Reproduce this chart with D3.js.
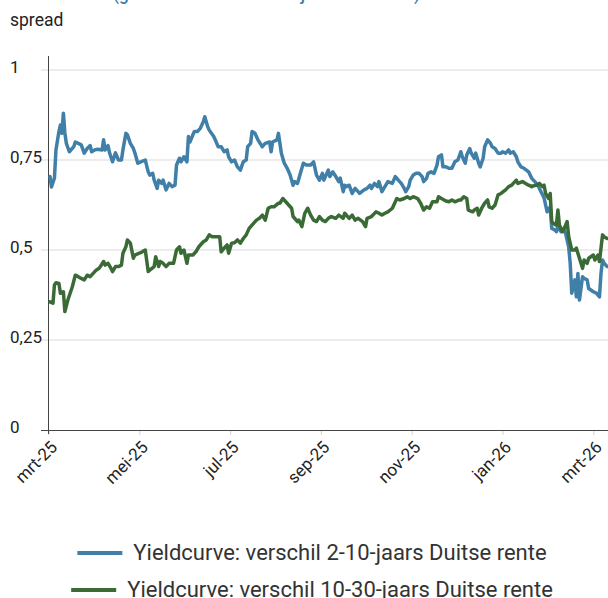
<!DOCTYPE html>
<html>
<head>
<meta charset="utf-8">
<script src="https://cdn.jsdelivr.net/npm/d3@7"></script>
<style>
  html, body { margin: 0; padding: 0; background: #fff; }
  svg { display: block; font-family: Roboto, "Noto Sans", sans-serif; }
</style>
</head>
<body>
<svg id="chart" width="608" height="598"></svg>
<script>
// ---------- data ----------
const startDate = "2025-03-01";
const tickDates = ["2025-03-01", "2025-05-01", "2025-07-01", "2025-09-01", "2025-11-01", "2026-01-01", "2026-03-01"];
const tickLabels = ["mrt-25", "mei-25", "jul-25", "sep-25", "nov-25", "jan-26", "mrt-26"];
const yTicks = [0, 0.25, 0.5, 0.75, 1];
const yTickLabels = ["0", "0,25", "0,5", "0,75", "1"];
const seriesNames = ["Yieldcurve: verschil 2-10-jaars Duitse rente", "Yieldcurve: verschil 10-30-jaars Duitse rente"];
const seriesColors = ["#3f7fa8", "#3a6b36"];

// days since 1 March 2025
const days2y10y = [1,2,4,5,7,8,9,10,11,12,14,17,18,20,22,24,26,28,29,31,33,36,37,38,40,41,43,45,47,49,50,52,53,55,57,58,60,62,65,67,68,70,71,73,74,76,77,79,81,83,85,86,88,89,91,93,94,95,97,98,100,102,104,105,107,108,111,112,114,116,118,120,121,123,125,127,129,131,133,134,136,137,139,141,144,146,149,150,151,154,155,157,159,161,163,165,166,168,170,172,174,177,179,181,183,185,186,189,190,192,194,196,197,199,200,201,203,205,207,209,210,213,215,217,218,220,222,223,225,227,229,232,234,236,238,240,241,243,244,246,248,250,252,253,255,256,258,260,262,263,265,266,268,270,272,274,276,278,279,281,282,284,285,287,288,290,291,293,294,296,298,299,301,303,305,306,308,310,311,313,315,316,318,320,323,325,327,329,331,333,335,337,338,340,341,342,344,346,347,349,350,351,353,354,355,356,358,359,361,362,365,367,369,370,371,372,374];
const spread2y10y = [0.704,0.675,0.70,0.778,0.829,0.847,0.824,0.88,0.825,0.796,0.773,0.787,0.80,0.796,0.792,0.769,0.782,0.79,0.773,0.778,0.78,0.778,0.806,0.778,0.79,0.77,0.745,0.77,0.75,0.75,0.778,0.824,0.82,0.796,0.782,0.77,0.741,0.745,0.75,0.717,0.708,0.713,0.694,0.671,0.694,0.685,0.694,0.667,0.685,0.676,0.68,0.736,0.755,0.745,0.759,0.745,0.815,0.80,0.82,0.829,0.829,0.838,0.856,0.87,0.842,0.833,0.815,0.806,0.787,0.787,0.773,0.778,0.759,0.745,0.75,0.731,0.722,0.745,0.75,0.787,0.796,0.829,0.824,0.806,0.787,0.796,0.80,0.773,0.80,0.806,0.824,0.769,0.741,0.727,0.708,0.68,0.69,0.685,0.713,0.741,0.736,0.736,0.745,0.708,0.694,0.713,0.694,0.722,0.704,0.717,0.704,0.69,0.70,0.662,0.68,0.676,0.68,0.657,0.671,0.662,0.657,0.667,0.671,0.68,0.671,0.685,0.676,0.69,0.662,0.676,0.69,0.685,0.704,0.694,0.685,0.671,0.662,0.676,0.694,0.708,0.713,0.713,0.704,0.69,0.699,0.713,0.717,0.713,0.736,0.759,0.764,0.731,0.731,0.727,0.727,0.745,0.75,0.773,0.759,0.741,0.764,0.782,0.769,0.755,0.769,0.741,0.731,0.755,0.787,0.806,0.796,0.787,0.782,0.769,0.769,0.773,0.769,0.778,0.769,0.773,0.759,0.745,0.731,0.727,0.717,0.699,0.69,0.68,0.662,0.645,0.606,0.62,0.56,0.556,0.551,0.565,0.551,0.556,0.546,0.509,0.463,0.38,0.417,0.37,0.435,0.361,0.426,0.421,0.417,0.393,0.384,0.38,0.37,0.435,0.472,0.463,0.454];

const days10y30y = [1,3,4,5,7,8,10,11,13,16,18,20,22,24,26,28,30,32,34,37,38,40,42,43,45,47,49,50,52,53,55,57,58,61,63,65,67,68,71,72,74,75,77,79,81,84,86,88,89,91,93,94,97,99,101,104,106,108,110,112,115,116,118,120,121,123,125,127,129,131,133,135,138,140,142,144,146,148,150,152,155,156,158,160,162,164,165,168,169,171,173,175,177,179,181,183,185,187,189,191,194,196,199,200,203,205,207,209,212,214,215,218,221,223,225,227,229,232,233,235,237,240,242,244,246,249,251,253,255,257,259,262,263,265,268,270,272,274,277,278,280,282,283,286,287,289,290,292,294,296,297,299,301,303,305,308,310,312,313,315,316,319,321,323,325,326,328,330,332,333,334,336,337,338,339,341,342,343,345,347,348,349,351,353,354,356,358,359,361,362,365,366,368,369,371,372,374];
const spread10y30y = [0.356,0.352,0.403,0.409,0.407,0.38,0.384,0.329,0.361,0.398,0.43,0.426,0.421,0.417,0.43,0.426,0.435,0.444,0.449,0.468,0.458,0.463,0.449,0.44,0.454,0.454,0.458,0.491,0.509,0.528,0.519,0.477,0.486,0.491,0.495,0.50,0.44,0.444,0.454,0.481,0.454,0.468,0.463,0.454,0.463,0.463,0.50,0.509,0.491,0.50,0.463,0.486,0.486,0.495,0.509,0.523,0.528,0.542,0.537,0.537,0.537,0.495,0.505,0.514,0.491,0.519,0.52,0.528,0.519,0.532,0.542,0.56,0.574,0.583,0.588,0.597,0.583,0.616,0.62,0.62,0.63,0.63,0.643,0.634,0.625,0.616,0.593,0.579,0.583,0.565,0.602,0.616,0.597,0.583,0.579,0.593,0.583,0.579,0.588,0.593,0.588,0.597,0.588,0.602,0.588,0.597,0.583,0.588,0.579,0.565,0.588,0.593,0.606,0.602,0.597,0.602,0.606,0.616,0.625,0.643,0.639,0.643,0.648,0.643,0.648,0.643,0.63,0.611,0.62,0.616,0.634,0.634,0.648,0.643,0.636,0.634,0.639,0.634,0.639,0.639,0.648,0.643,0.611,0.606,0.611,0.616,0.597,0.616,0.63,0.639,0.62,0.616,0.625,0.653,0.657,0.667,0.676,0.68,0.685,0.694,0.685,0.69,0.685,0.68,0.676,0.678,0.68,0.685,0.676,0.68,0.657,0.643,0.657,0.579,0.574,0.569,0.611,0.569,0.551,0.569,0.579,0.537,0.50,0.50,0.505,0.477,0.449,0.472,0.463,0.477,0.486,0.472,0.486,0.468,0.542,0.537,0.532];

// ---------- chart ----------
const svg = d3.select("#chart");
const W = 608;
const left = 48.5, tickStep = 90.8;
const yTop = 70, yBottom = 430;
const parse = d3.timeParse("%Y-%m-%d");
const t0 = parse(startDate);

const x = d3.scaleTime()
  .domain(tickDates.map(parse))
  .range(tickDates.map((d, i) => left + i * tickStep));
const y = d3.scaleLinear().domain([0, 1]).range([yBottom, yTop]);

// cut-off subtitle at the very top
svg.append("text")
  .attr("x", 113).attr("y", 0)
  .attr("textLength", 307).attr("lengthAdjust", "spacingAndGlyphs")
  .attr("fill", "#3f7fa8").attr("font-size", 18).attr("font-weight", 500)
  .text("(gemeten als verschil in jaarrente Duits)");

svg.append("text")
  .attr("x", 10).attr("y", 26)
  .attr("fill", "#222").attr("font-size", 17.5)
  .text("spread");

// gridlines
const grid = svg.append("g");
grid.selectAll("line").data(yTicks.filter(d => d > 0)).join("line")
  .attr("x1", 41).attr("x2", W)
  .attr("y1", d => y(d)).attr("y2", d => y(d))
  .attr("stroke", "#d9d9d9").attr("stroke-width", 1);

// y labels
svg.append("g").selectAll("text").data(yTicks).join("text")
  .attr("x", 10).attr("y", d => y(d) - 3)
  .attr("dy", "0.35em")
  .attr("fill", "#222").attr("font-size", 17)
  .text((d, i) => yTickLabels[i]);

// x axis
const xAxis = d3.axisBottom(x)
  .tickValues(tickDates.map(parse))
  .tickFormat((d, i) => tickLabels[i])
  .tickSize(5).tickSizeOuter(0);
const gx = svg.append("g").attr("transform", `translate(0,${yBottom})`).call(xAxis);
gx.select(".domain").remove();
gx.selectAll(".tick line").attr("stroke", "#d0d0d0");
gx.selectAll(".tick text")
  .attr("font-family", "Roboto, sans-serif")
  .attr("font-size", 17).attr("fill", "#222")
  .attr("text-anchor", "end")
  .attr("y", 0).attr("dy", "0.35em")
  .attr("transform", "translate(5,14) rotate(-45)");

// baseline and y axis
svg.append("line").attr("x1", 41).attr("x2", W).attr("y1", yBottom + 0.5).attr("y2", yBottom + 0.5)
  .attr("stroke", "#444").attr("stroke-width", 1);
svg.append("line").attr("x1", left).attr("x2", left).attr("y1", 56).attr("y2", yBottom + 4)
  .attr("stroke", "#444").attr("stroke-width", 1);

// lines
const lineGen = d3.line()
  .x(d => x(d3.timeDay.offset(t0, d[0])))
  .y(d => y(d[1]));
const series = [
  d3.zip(days2y10y, spread2y10y),
  d3.zip(days10y30y, spread10y30y)
];
svg.append("g").selectAll("path").data(series).join("path")
  .attr("d", lineGen)
  .attr("fill", "none")
  .attr("stroke", (d, i) => seriesColors[i])
  .attr("stroke-width", 3.5)
  .attr("stroke-linejoin", "round")
  .attr("stroke-linecap", "round");

// legend
const legendBase = [560, 597];
const legendLineY = [553, 590];
const lg = svg.append("g");
seriesNames.forEach((name, i) => {
  const g = lg.append("g");
  const t = g.append("text")
    .attr("x", 56).attr("y", legendBase[i])
    .attr("font-size", 22).attr("fill", "#333")
    .text(name);
  g.append("line")
    .attr("x1", 0).attr("x2", 45)
    .attr("y1", legendLineY[i]).attr("y2", legendLineY[i])
    .attr("stroke", seriesColors[i]).attr("stroke-width", 4);
  const w = 56 + t.node().getComputedTextLength();
  g.attr("transform", `translate(${312 - w / 2},0)`);
});
</script>
</body>
</html>
